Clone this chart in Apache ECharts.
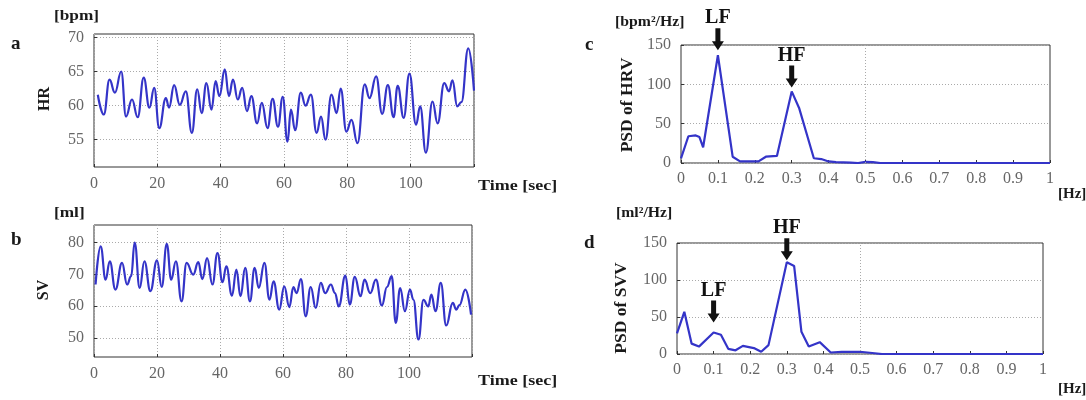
<!DOCTYPE html>
<html>
<head>
<meta charset="utf-8">
<script src="https://cdn.jsdelivr.net/npm/echarts@6/dist/echarts.min.js"></script>
<style>
html,body{margin:0;padding:0;background:#fff;}
#chart{width:1086px;height:400px;}
</style>
</head>
<body>
<div id="chart"></div>
<script>
// ---- Data ----
const hrTime = [1.2,3.1,4.9,6.6,8.6,10.1,12,13.8,15.7,17.5,19,20.6,22.7,23.7,25.3,27.1,29,30.9,32.6,34,35.5,37.1,38.4,39.6,41.3,42.6,43.9,45.4,46.8,48.3,49.7,51.5,53,54.8,56.4,58.1,59.6,61.1,62.2,63.5,65.3,66.8,68.5,70.3,71.7,73.1,75,76.6,77.9,79.7,81.3,83.2,85.5,87,89.1,91,92.8,94.6,95.9,97.8,99.6,101.7,103,104.8,106.9,108.5,110.6,112.1,113.2,114.7,116,118.2,120];
const hrValue = [61.6,58.7,63.8,61.9,65,58.4,60.9,58.3,64.1,59.7,62.6,56.7,61.1,59.7,63,60.1,62.1,56,62.4,58.9,63.3,59.4,63.6,61.4,65.3,61.4,63.8,60.9,62.6,59.2,61.4,57.4,60.4,56.7,61,56.9,61.3,54.7,59.4,56.4,61.9,60,61.6,56,58.4,55,61.6,58.9,62.5,56.2,57.9,54.5,63.1,61.1,64.3,58.8,63,58.3,62.9,58.2,64.7,57.2,59.9,53.1,60.6,57.4,63.3,62.1,63.7,59.9,60.5,68.4,62.2];

const svTime = [0.5,2.1,3.7,5,6.8,8.9,10.5,11.8,12.9,14.5,16,17.9,20,21.5,23.1,24.5,26,27.8,29.4,31.5,33.1,34.4,35.9,37.6,39.2,40.8,42,43.8,45.2,46.5,48,49.5,51,52.3,54.1,55.7,57,58.8,60.4,62,63.3,64.3,65.7,67.2,68.8,70.4,72,73.4,75.2,76.5,77.7,79.8,81.2,82.8,84.6,85.9,87.7,89.5,91.4,93,94.5,95.8,97.2,98.7,100.3,101.4,103,104.6,106.1,107.1,108.4,110.1,111.8,113.9,115,116,117.9,119.7];
const svValue = [66.8,78.8,68.3,74.1,65.2,73.6,66.8,69.4,80,65.7,74.1,64.7,74.4,66,79.6,68.3,74.1,61.5,73.6,69.9,73.8,68.5,75.1,66.8,76.7,67.5,72.5,63.3,71.5,63.1,72,61.5,72,65.7,73.6,62,67.8,58.9,66.2,59.7,66,64.1,68.5,56.8,66,59.4,67.3,64.1,66.8,64.1,59.9,69.6,60.5,69.2,63.1,68.3,64.1,68.3,60.2,66,69.4,54.7,65.7,58.4,65.2,62,49.5,62,59.9,63.6,58.4,67.3,53.9,61,58.9,60.3,65.2,57.3];

const hrvFreq = [0,0.02,0.04,0.05,0.06,0.10,0.14,0.16,0.21,0.23,0.26,0.30,0.32,0.36,0.38,0.40,0.42,0.46,0.48,0.50,0.52,0.54,0.6,1.0];
const hrvPsd  = [6,34,35,33,20,137,8,2,2,8,9,91,70,6,5,2,1,0.5,0,1.5,1,0,0,0];

const svvFreq = [0,0.02,0.04,0.06,0.10,0.12,0.14,0.16,0.18,0.21,0.23,0.25,0.30,0.32,0.34,0.36,0.39,0.42,0.45,0.50,0.54,0.56,1.0];
const svvPsd  = [28,57,14,10,29,26,7,5,11,8,3,12,124,119,30,10,16,2,3,3,1,0,0];

const hrTicks = [55,60,65,70];
const svTicks = [50,60,70,80];
const timeTicks = [0,20,40,60,80,100];
const freqTicks = [0,0.1,0.2,0.3,0.4,0.5,0.6,0.7,0.8,0.9,1];
const psdTicks = [0,50,100,150];

// ---- Styling helpers ----
const serif = 'Liberation Serif';
const lineColor = '#3434c8';
const labelStyle = {fontFamily: serif, fontSize: 16, color: '#666666'};
const gridLine = {show: true, lineStyle: {color: '#aaaaaa', type: [1, 2], width: 1}};
const tick = {show: true, inside: true, length: 3, lineStyle: {color: '#333'}};

function pairs(xs, ys) { return xs.map((x, i) => [x, ys[i]]); }

const arrow = 'path://M3.5,0 L8.5,0 L8.5,13 L12,13 L6,22 L0,13 L3.5,13 Z';
function mark(x, y, name, gap) {
  return {coord: [x, y], name: name, symbol: arrow, symbolSize: [12, 22], symbolOffset: [0, -(11 + gap)],
          itemStyle: {color: '#111'},
          label: {show: true, position: 'top', distance: 0, formatter: '{b}', fontFamily: serif, fontWeight: 'bold', fontSize: 20, color: '#111'}};
}

const grids = [
  {left: 94, top: 34, width: 380, height: 133},
  {left: 94, top: 225, width: 378, height: 132},
  {left: 681, top: 45, width: 369, height: 118},
  {left: 677, top: 243, width: 366, height: 111}
].map(g => Object.assign(g, {show: true, borderColor: '#333', borderWidth: 1, backgroundColor: 'transparent'}));

const timeAxis = (gi) => ({
  type: 'value', gridIndex: gi, min: 0, max: 120, interval: 20,
  axisLine: {show: false}, axisTick: tick, splitLine: gridLine,
  axisLabel: Object.assign({margin: 9, formatter: v => timeTicks.indexOf(v) >= 0 ? String(v) : ''}, labelStyle)
});
const freqAxis = (gi) => ({
  type: 'value', gridIndex: gi, min: 0, max: 1, interval: 0.1,
  axisLine: {show: false}, axisTick: tick, splitLine: {show: false},
  axisLabel: Object.assign({margin: 8, formatter: v => {
    const f = freqTicks.find(t => Math.abs(t - v) < 1e-6); return f === undefined ? '' : String(f);
  }}, labelStyle)
});
const psdAxis = (gi) => ({
  type: 'value', gridIndex: gi, min: 0, max: 150, interval: 50, axisLine: {show: false},
  axisTick: tick, splitLine: gridLine,
  axisLabel: Object.assign({margin: 10, formatter: v => psdTicks.indexOf(v) >= 0 ? String(v) : ''}, labelStyle)
});

const option = {
  animation: false,
  grid: grids,
  xAxis: [timeAxis(0), timeAxis(1), freqAxis(2), freqAxis(3)],
  yAxis: [
    {type: 'value', gridIndex: 0, min: 51, max: 70.5, axisLine: {show: false},
     axisTick: Object.assign({customValues: hrTicks}, tick), splitLine: gridLine,
     axisLabel: Object.assign({customValues: hrTicks, margin: 10}, labelStyle)},
    {type: 'value', gridIndex: 1, min: 44, max: 85.5, axisLine: {show: false},
     axisTick: Object.assign({customValues: svTicks}, tick), splitLine: gridLine,
     axisLabel: Object.assign({customValues: svTicks, margin: 10}, labelStyle)},
    psdAxis(2), psdAxis(3)
  ],
  series: [
    {type: 'line', xAxisIndex: 0, yAxisIndex: 0, data: pairs(hrTime, hrValue), smooth: 0.45, smoothMonotone: 'x',
     showSymbol: false, lineStyle: {color: lineColor, width: 2.2}},
    {type: 'line', xAxisIndex: 1, yAxisIndex: 1, data: pairs(svTime, svValue), smooth: 0.45, smoothMonotone: 'x',
     showSymbol: false, lineStyle: {color: lineColor, width: 2.2}},
    {type: 'line', xAxisIndex: 2, yAxisIndex: 2, data: pairs(hrvFreq, hrvPsd), showSymbol: false,
     lineStyle: {color: lineColor, width: 2.2},
     markLine: {silent: true, symbol: 'none', label: {show: false}, lineStyle: {color: '#aaaaaa', type: [1, 2], width: 1},
                data: [{xAxis: 0.5}]},
     markPoint: {data: [mark(0.1, 137, 'LF', 5), mark(0.3, 91, 'HF', 4)]}},
    {type: 'line', xAxisIndex: 3, yAxisIndex: 3, data: pairs(svvFreq, svvPsd), showSymbol: false,
     lineStyle: {color: lineColor, width: 2.2},
     markLine: {silent: true, symbol: 'none', label: {show: false}, lineStyle: {color: '#aaaaaa', type: [1, 2], width: 1},
                data: [{xAxis: 0.5}]},
     markPoint: {data: [mark(0.1, 29, 'LF', 10), mark(0.3, 124, 'HF', 2)]}}
  ],
  graphic: (function () {
    const t = (text, x, y, size, opts) => Object.assign({
      type: 'text', x: x, y: y, silent: true,
      style: {text: text, fontFamily: serif, fontWeight: 'bold', fontSize: size, fill: '#1a1a1a',
              textAlign: 'left', textVerticalAlign: 'middle'}
    }, opts || {});
    const r = (text, x, y, size) => ({
      type: 'text', x: x, y: y, rotation: Math.PI / 2, silent: true,
      style: {text: text, fontFamily: serif, fontWeight: 'bold', fontSize: size, fill: '#1a1a1a',
              textAlign: 'center', textVerticalAlign: 'middle'}
    });
    return [
      t('a', 11, 44, 19), t('b', 11, 240, 19), t('c', 585, 45, 19), t('d', 584, 243, 19),
      t('[bpm]', 54, 16, 15, {scaleX: 1.15}), t('[ml]', 54, 213, 15, {scaleX: 1.15}),
      t('[bpm²/Hz]', 615, 22, 15, {scaleX: 1.05}), t('[ml²/Hz]', 616, 213, 15, {scaleX: 1.05}),
      t('Time [sec]', 478, 186, 15, {scaleX: 1.2}), t('Time [sec]', 478, 381, 15, {scaleX: 1.2}),
      t('[Hz]', 1058, 194, 15), t('[Hz]', 1058, 389, 15),
      r('HR', 45, 99, 16), r('SV', 44, 290, 16), r('PSD of HRV', 627, 105, 17.5), r('PSD of SVV', 621, 308, 17.5)
    ];
  })()
};

const chart = echarts.init(document.getElementById('chart'), null, {renderer: 'canvas'});
chart.setOption(option);
</script>
</body>
</html>
